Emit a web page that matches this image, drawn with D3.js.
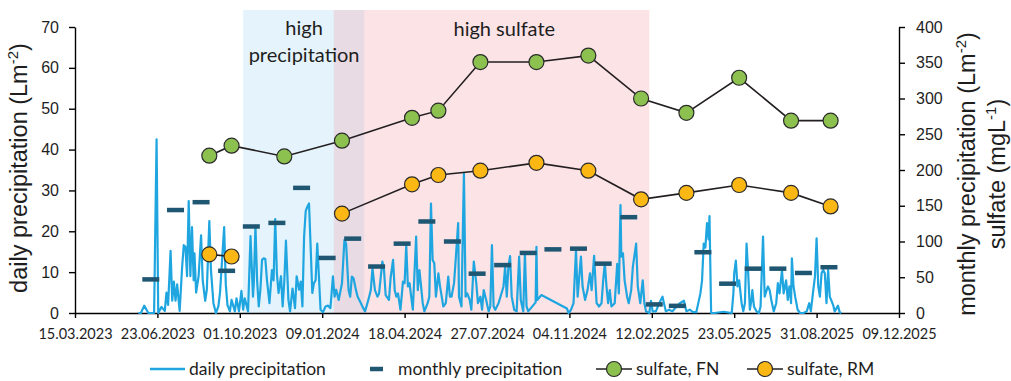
<!DOCTYPE html>
<html>
<head>
<meta charset="utf-8">
<script src="https://cdn.jsdelivr.net/npm/d3@7"></script>
<style>
  body { margin: 0; background: #fff; }
  svg { display: block; }
</style>
</head>
<body>
<div id="chart"></div>
<script>
// axis tick labels
const xTickLabels = ["15.03.2023", "23.06.2023", "01.10.2023", "09.01.2024", "18.04.2024", "27.07.2024",
  "04.11.2024", "12.02.2025", "23.05.2025", "31.08.2025", "09.12.2025"];
const leftTicks = [0, 10, 20, 30, 40, 50, 60, 70];
const rightTicks = [0, 50, 100, 150, 200, 250, 300, 350, 400];

// shaded periods and where their labels sit
const periodNames = ["high precipitation", "high sulfate"];
const periodStart = ["2023-10-05", "2024-01-23"];
const periodEnd = ["2024-02-29", "2025-02-09"];
const periodLabelAt = ["2023-12-18", "2024-08-17"];

// monthly precipitation (Lm-2), right axis
const monthlyDates = ["2023-06-15", "2023-07-15", "2023-08-15", "2023-09-15", "2023-10-15", "2023-11-15",
  "2023-12-15", "2024-01-15", "2024-02-15", "2024-03-15", "2024-04-15", "2024-05-15", "2024-06-15",
  "2024-07-15", "2024-08-15", "2024-09-15", "2024-10-15", "2024-11-15", "2024-12-15", "2025-01-15",
  "2025-02-15", "2025-03-15", "2025-04-15", "2025-05-15", "2025-06-15", "2025-07-15", "2025-08-15",
  "2025-09-15"];
const monthlyPrecip = [47, 144, 155, 59, 121, 126, 175, 77, 104, 65, 97, 128, 100, 55, 67, 84, 89, 90, 69,
  134, 12, 10, 85, 41, 62, 62, 56, 64];

// sulfate (mgL-1), right axis
const sulfateDates = ["2023-08-25", "2023-09-21", "2023-11-24", "2024-02-02", "2024-04-27", "2024-05-29",
  "2024-07-19", "2024-09-25", "2024-11-27", "2025-01-30", "2025-03-26", "2025-05-29", "2025-07-31",
  "2025-09-17"];
const sulfateFN = [220, 234, 219, 241, 273, 283, 351, 351, 360, 300, 280, 329, 269, 269];
const sulfateRM = [82, 79, null, 139, 180, 193, 199, 210, 199, 159, 168, 179, 168, 149];

// daily precipitation (Lm-2), left axis
const dailyPrecip = [
  ["2023-05-31", 0], ["2023-06-03", 0], ["2023-06-07", 1.8], ["2023-06-12", 0], ["2023-06-19", 0],
  ["2023-06-22", 42.5], ["2023-06-24", 0], ["2023-06-28", 1.5], ["2023-07-02", 0.5], ["2023-07-04", 5],
  ["2023-07-06", 2], ["2023-07-09", 15.2], ["2023-07-11", 3], ["2023-07-13", 7.7], ["2023-07-15", 3],
  ["2023-07-17", 7], ["2023-07-20", 0.5], ["2023-07-23", 11.2], ["2023-07-25", 16.6], ["2023-07-27", 16.2],
  ["2023-07-29", 9], ["2023-07-31", 27.4], ["2023-08-02", 9], ["2023-08-04", 21], ["2023-08-06", 8],
  ["2023-08-07", 14.6], ["2023-08-09", 5], ["2023-08-12", 9], ["2023-08-15", 19], ["2023-08-17", 8],
  ["2023-08-20", 3], ["2023-08-22", 5.7], ["2023-08-25", 22.5], ["2023-08-27", 10.5], ["2023-08-30", 2.4],
  ["2023-09-02", 0], ["2023-09-05", 1.6], ["2023-09-07", 5], ["2023-09-12", 21], ["2023-09-14", 7],
  ["2023-09-16", 2], ["2023-09-19", 0.4], ["2023-09-21", 3.2], ["2023-09-25", 0.4], ["2023-09-27", 3.6],
  ["2023-09-30", 0.4], ["2023-10-03", 5.4], ["2023-10-05", 0.8], ["2023-10-07", 3.6], ["2023-10-11", 0.4],
  ["2023-10-14", 18.8], ["2023-10-17", 4], ["2023-10-18", 7.3], ["2023-10-20", 21.3], ["2023-10-22", 8],
  ["2023-10-24", 1.6], ["2023-10-26", 5.7], ["2023-10-28", 13], ["2023-10-30", 13.4], ["2023-11-01", 13.2],
  ["2023-11-03", 8], ["2023-11-06", 2.4], ["2023-11-09", 10.5], ["2023-11-11", 8], ["2023-11-13", 23],
  ["2023-11-15", 9.7], ["2023-11-17", 4.9], ["2023-11-20", 9], ["2023-11-22", 1.6], ["2023-11-24", 7.7],
  ["2023-11-26", 17.7], ["2023-11-29", 3.2], ["2023-12-01", 0.4], ["2023-12-04", 6], ["2023-12-07", 1.2],
  ["2023-12-09", 9], ["2023-12-12", 5.7], ["2023-12-14", 7.7], ["2023-12-16", 1.6], ["2023-12-18", 18.6],
  ["2023-12-20", 25], ["2023-12-22", 26], ["2023-12-24", 26.8], ["2023-12-26", 16], ["2023-12-28", 4.9],
  ["2023-12-30", 7.3], ["2024-01-01", 8], ["2024-01-03", 17], ["2024-01-05", 9], ["2024-01-07", 0.8],
  ["2024-01-10", 0.2], ["2024-01-13", 1.6], ["2024-01-16", 1.8], ["2024-01-19", 1.2], ["2024-01-22", 9],
  ["2024-01-24", 4], ["2024-01-26", 5.7], ["2024-01-29", 3.2], ["2024-02-02", 7.3], ["2024-02-05", 17.9],
  ["2024-02-07", 17], ["2024-02-10", 5.6], ["2024-02-12", 4], ["2024-02-14", 8.9], ["2024-02-16", 8.5],
  ["2024-02-19", 5.6], ["2024-02-21", 4], ["2024-02-25", 2.4], ["2024-02-27", 1.5], ["2024-03-01", 0.4],
  ["2024-03-05", 3.2], ["2024-03-08", 5.6], ["2024-03-10", 10.9], ["2024-03-13", 5.6], ["2024-03-16", 4],
  ["2024-03-18", 4.8], ["2024-03-22", 12.6], ["2024-03-24", 10.5], ["2024-03-26", 4.4], ["2024-03-30", 3.2],
  ["2024-04-01", 8.5], ["2024-04-04", 13], ["2024-04-06", 5.6], ["2024-04-08", 4], ["2024-04-10", 4.8],
  ["2024-04-13", 0.8], ["2024-04-16", 7.7], ["2024-04-18", 7.3], ["2024-04-20", 16.6], ["2024-04-22", 6.5],
  ["2024-04-24", 7.3], ["2024-04-26", 4], ["2024-04-28", 0.8], ["2024-05-02", 18.7], ["2024-05-04", 5.6],
  ["2024-05-06", 10.5], ["2024-05-08", 6.5], ["2024-05-10", 2.4], ["2024-05-12", 0.4], ["2024-05-16", 2.4],
  ["2024-05-18", 4], ["2024-05-20", 26.8], ["2024-05-22", 13], ["2024-05-24", 12.2], ["2024-05-26", 4],
  ["2024-05-29", 9.7], ["2024-05-31", 6.5], ["2024-06-04", 1.6], ["2024-06-07", 2.4], ["2024-06-10", 8.9],
  ["2024-06-12", 4], ["2024-06-14", 4], ["2024-06-17", 7.3], ["2024-06-19", 13], ["2024-06-22", 22],
  ["2024-06-23", 4], ["2024-06-26", 1.6], ["2024-06-29", 34.2], ["2024-07-01", 4], ["2024-07-03", 4.8],
  ["2024-07-06", 3.2], ["2024-07-08", 0.8], ["2024-07-11", 12.6], ["2024-07-14", 7.3], ["2024-07-16", 2.4],
  ["2024-07-19", 4], ["2024-07-21", 0.8], ["2024-07-23", 5.6], ["2024-07-26", 3.2], ["2024-07-29", 0.4],
  ["2024-07-31", 1.6], ["2024-08-02", 16.6], ["2024-08-04", 1.6], ["2024-08-06", 0.8], ["2024-08-10", 2.4],
  ["2024-08-13", 4.4], ["2024-08-16", 6.5], ["2024-08-18", 11.3], ["2024-08-20", 4], ["2024-08-22", 11.4],
  ["2024-08-24", 13.9], ["2024-08-26", 4], ["2024-08-29", 0.8], ["2024-09-01", 0.4], ["2024-09-04", 13.8],
  ["2024-09-06", 3.2], ["2024-09-09", 0.4], ["2024-09-11", 14.6], ["2024-09-13", 1.6], ["2024-09-15", 0.4],
  ["2024-09-24", 2.6], ["2024-09-25", 16.2], ["2024-09-26", 3.2], ["2024-10-01", 4.4], ["2024-11-01", 1.1],
  ["2024-11-03", 0], ["2024-11-06", 0.8], ["2024-11-09", 2.4], ["2024-11-12", 15.4], ["2024-11-14", 4],
  ["2024-11-18", 13.8], ["2024-11-20", 6.5], ["2024-11-23", 3.2], ["2024-11-26", 5.6], ["2024-11-29", 9.7],
  ["2024-12-01", 5.6], ["2024-12-04", 14], ["2024-12-07", 2.4], ["2024-12-10", 1.6], ["2024-12-13", 2.4],
  ["2024-12-15", 8], ["2024-12-17", 12.2], ["2024-12-19", 6.5], ["2024-12-21", 2.4], ["2024-12-23", 5.6],
  ["2024-12-25", 1.6], ["2024-12-29", 2.4], ["2025-01-01", 12], ["2025-01-03", 4.8], ["2025-01-05", 26.4],
  ["2025-01-06", 13.8], ["2025-01-08", 14.6], ["2025-01-10", 8], ["2025-01-13", 4], ["2025-01-15", 2.4],
  ["2025-01-18", 5.6], ["2025-01-20", 11.3], ["2025-01-24", 17], ["2025-01-26", 6.5], ["2025-01-29", 2.4],
  ["2025-02-01", 8], ["2025-02-03", 2.4], ["2025-02-05", 0.4], ["2025-02-09", 0], ["2025-02-11", 3],
  ["2025-02-13", 0.4], ["2025-02-17", 0.4], ["2025-02-21", 2.4], ["2025-02-25", 4], ["2025-03-01", 0.4],
  ["2025-03-05", 0.8], ["2025-03-09", 0.4], ["2025-03-14", 1.6], ["2025-03-18", 2.4], ["2025-03-23", 3],
  ["2025-03-26", 0.4], ["2025-03-30", 0.8], ["2025-04-03", 0.2], ["2025-04-07", 0.2], ["2025-04-12", 4.8],
  ["2025-04-14", 8], ["2025-04-16", 17], ["2025-04-18", 16], ["2025-04-20", 22], ["2025-04-22", 18],
  ["2025-04-23", 23.7], ["2025-04-25", 0], ["2025-04-29", 0], ["2025-05-10", 0.3], ["2025-05-20", 0],
  ["2025-05-22", 4.8], ["2025-05-23", 9.7], ["2025-05-25", 12.8], ["2025-05-27", 6.5], ["2025-05-29", 8],
  ["2025-06-01", 2.4], ["2025-06-03", 0.4], ["2025-06-05", 2.4], ["2025-06-07", 17], ["2025-06-09", 9.7],
  ["2025-06-11", 0.8], ["2025-06-13", 3.2], ["2025-06-14", 5.6], ["2025-06-16", 1.6], ["2025-06-19", 0.4],
  ["2025-06-22", 0], ["2025-06-24", 1.6], ["2025-06-27", 18.7], ["2025-06-29", 4], ["2025-07-02", 6],
  ["2025-07-03", 6.5], ["2025-07-05", 5.6], ["2025-07-07", 3.2], ["2025-07-10", 0.4], ["2025-07-13", 2.4],
  ["2025-07-15", 7.3], ["2025-07-17", 4.8], ["2025-07-20", 10.5], ["2025-07-22", 4.8], ["2025-07-25", 8],
  ["2025-07-27", 3.2], ["2025-07-29", 6.5], ["2025-07-31", 2.4], ["2025-08-01", 13.4], ["2025-08-03", 6.5],
  ["2025-08-05", 4], ["2025-08-08", 0.8], ["2025-08-11", 0], ["2025-08-15", 0], ["2025-08-19", 0.4],
  ["2025-08-22", 2.4], ["2025-08-24", 0.4], ["2025-08-27", 5.6], ["2025-08-29", 8.9], ["2025-08-31", 18.3],
  ["2025-09-02", 6.5], ["2025-09-04", 4], ["2025-09-06", 9.7], ["2025-09-08", 10.5], ["2025-09-10", 9.7],
  ["2025-09-12", 2.4], ["2025-09-14", 10.5], ["2025-09-16", 4], ["2025-09-20", 2], ["2025-09-22", 0.4],
  ["2025-09-26", 1.8], ["2025-09-28", 0.2], ["2025-09-30", 0]
];

const width = 1011;
const height = 381;
const plot = { left: 75, right: 899, top: 27, bottom: 313 };

const parseIso = d3.utcParse("%Y-%m-%d");
const parseTick = d3.utcParse("%d.%m.%Y");
const xTicks = xTickLabels.map(parseTick);

const x = d3.scaleUtc()
  .domain([xTicks[0], xTicks[xTicks.length - 1]])
  .range([plot.left, plot.right]);
const yLeft = d3.scaleLinear().domain([0, 70]).range([plot.bottom, plot.top]);
const yRight = d3.scaleLinear().domain([0, 400]).range([plot.bottom, plot.top]);

const colors = {
  daily: "#1fa6e0",
  monthly: "#1f5672",
  fn: "#8cc04f",
  rm: "#fbb714",
  link: "#231f20",
  text: "#1e1e1e"
};

const svg = d3.select("#chart")
  .append("svg")
  .attr("width", width)
  .attr("height", height)
  .style("background", "#fff");

// shaded periods: blue first, translucent pink over it
const shadeTop = 10;
const shadeFill = ["#e5f4fc", "rgba(240,151,162,0.27)"];
periodNames.forEach((name, i) => {
  const x0 = x(parseIso(periodStart[i]));
  const x1 = x(parseIso(periodEnd[i]));
  svg.append("rect")
    .attr("x", x0)
    .attr("y", shadeTop)
    .attr("width", x1 - x0)
    .attr("height", plot.bottom - shadeTop)
    .attr("fill", shadeFill[i]);
});

// period labels
const labelFont = "Lato, 'Open Sans', sans-serif";
const pl = svg.append("text")
  .attr("text-anchor", "middle")
  .style("font-family", labelFont)
  .style("font-size", "20px")
  .attr("fill", colors.text);
const precipX = x(parseIso(periodLabelAt[0]));
pl.append("tspan").attr("x", precipX).attr("y", 35).text("high");
pl.append("tspan").attr("x", precipX).attr("y", 62).text("precipitation");
svg.append("text")
  .attr("x", x(parseIso(periodLabelAt[1])))
  .attr("y", 36)
  .attr("text-anchor", "middle")
  .style("font-family", labelFont)
  .style("font-size", "20px")
  .attr("fill", colors.text)
  .text(periodNames[1]);

// axes
const axisFont = "'Liberation Sans', Arial, sans-serif";
const styleAxis = g => {
  g.select(".domain").attr("stroke", "#000").attr("stroke-width", 1.4);
  g.selectAll(".tick line").attr("stroke", "#000").attr("stroke-width", 1.4);
  g.selectAll("text").attr("fill", colors.text);
};

svg.append("g")
  .attr("transform", `translate(${plot.left},0)`)
  .call(d3.axisLeft(yLeft).tickValues(leftTicks).tickSize(6).tickSizeOuter(0).tickPadding(10))
  .call(styleAxis)
  .selectAll("text")
  .style("font-family", axisFont)
  .style("font-size", "16px");

svg.append("g")
  .attr("transform", `translate(${plot.right},0)`)
  .call(d3.axisRight(yRight).tickValues(rightTicks).tickSize(6).tickSizeOuter(0).tickPadding(11))
  .call(styleAxis)
  .selectAll("text")
  .style("font-family", axisFont)
  .style("font-size", "16px");

svg.append("g")
  .attr("transform", `translate(0,${plot.bottom})`)
  .call(d3.axisBottom(x).tickValues(xTicks).tickFormat((d, i) => xTickLabels[i])
    .tickSize(5).tickSizeOuter(0).tickPadding(11))
  .call(styleAxis)
  .selectAll("text")
  .style("font-family", labelFont)
  .style("font-size", "14.5px");

// axis titles
const leftTitle = svg.append("text")
  .attr("transform", `translate(27,168) rotate(-90)`)
  .attr("text-anchor", "middle")
  .style("font-family", axisFont)
  .style("font-size", "23.5px")
  .attr("fill", colors.text);
leftTitle.append("tspan").text("daily precipitation (Lm");
leftTitle.append("tspan").attr("dy", -9).style("font-size", "15px").text("-2");
leftTitle.append("tspan").attr("dy", 9).text(")");

const rightTitle = svg.append("g")
  .attr("transform", `translate(0,174)`)
  .style("font-family", axisFont)
  .style("font-size", "23.5px")
  .attr("fill", colors.text);
const rt1 = rightTitle.append("text")
  .attr("transform", "translate(975,0) rotate(-90)")
  .attr("text-anchor", "middle");
rt1.append("tspan").text("monthly precipitation (Lm");
rt1.append("tspan").attr("dy", -9).style("font-size", "15px").text("-2");
rt1.append("tspan").attr("dy", 9).text(")");
const rt2 = rightTitle.append("text")
  .attr("transform", "translate(1005,0) rotate(-90)")
  .attr("text-anchor", "middle");
rt2.append("tspan").text("sulfate (mgL");
rt2.append("tspan").attr("dy", -9).style("font-size", "15px").text("-1");
rt2.append("tspan").attr("dy", 9).text(")");

// daily precipitation line
const daily = dailyPrecip.map(([d, v]) => ({ date: parseIso(d), value: v }));
svg.append("path")
  .datum(daily)
  .attr("fill", "none")
  .attr("stroke", colors.daily)
  .attr("stroke-width", 2.2)
  .attr("stroke-linejoin", "round")
  .attr("d", d3.line().x(d => x(d.date)).y(d => yLeft(d.value)));

// monthly precipitation dashes
const dashW = 17;
const dashH = 4.5;
svg.append("g")
  .selectAll("rect")
  .data(monthlyDates.map((d, i) => ({ date: parseIso(d), value: monthlyPrecip[i] })))
  .enter()
  .append("rect")
  .attr("x", d => x(d.date) - dashW / 2)
  .attr("y", d => yRight(d.value) - dashH / 2)
  .attr("width", dashW)
  .attr("height", dashH)
  .attr("fill", colors.monthly);

// sulfate series
const drawSulfate = (values, fill) => {
  const pts = sulfateDates.map((d, i) => ({ date: parseIso(d), value: values[i] }));
  svg.append("path")
    .datum(pts)
    .attr("fill", "none")
    .attr("stroke", colors.link)
    .attr("stroke-width", 1.6)
    .attr("d", d3.line()
      .defined(d => d.value != null)
      .x(d => x(d.date))
      .y(d => yRight(d.value)));
  svg.append("g")
    .selectAll("circle")
    .data(pts.filter(d => d.value != null))
    .enter()
    .append("circle")
    .attr("cx", d => x(d.date))
    .attr("cy", d => yRight(d.value))
    .attr("r", 7.5)
    .attr("fill", fill)
    .attr("stroke", "#2b2b2b")
    .attr("stroke-width", 1.2);
};
drawSulfate(sulfateFN, colors.fn);
drawSulfate(sulfateRM, colors.rm);

// legend
const legendY = 369;
const legend = svg.append("g")
  .style("font-family", labelFont)
  .style("font-size", "17.5px")
  .attr("fill", colors.text);

legend.append("line")
  .attr("x1", 150).attr("x2", 185).attr("y1", legendY).attr("y2", legendY)
  .attr("stroke", colors.daily).attr("stroke-width", 2.5);
legend.append("text").attr("x", 189).attr("y", legendY).attr("dy", "0.35em").text("daily precipitation");

legend.append("rect")
  .attr("x", 370).attr("y", legendY - 2.25).attr("width", 13).attr("height", dashH)
  .attr("fill", colors.monthly);
legend.append("text").attr("x", 398).attr("y", legendY).attr("dy", "0.35em").text("monthly precipitation");

[[596, "sulfate, FN", colors.fn], [747, "sulfate, RM", colors.rm]].forEach(([lx, label, fill]) => {
  legend.append("line")
    .attr("x1", lx).attr("x2", lx + 36).attr("y1", legendY).attr("y2", legendY)
    .attr("stroke", colors.link).attr("stroke-width", 1.6);
  legend.append("circle")
    .attr("cx", lx + 18).attr("cy", legendY).attr("r", 7.5)
    .attr("fill", fill).attr("stroke", "#2b2b2b").attr("stroke-width", 1.2);
  legend.append("text").attr("x", lx + 40).attr("y", legendY).attr("dy", "0.35em").text(label);
});
</script>
</body>
</html>
